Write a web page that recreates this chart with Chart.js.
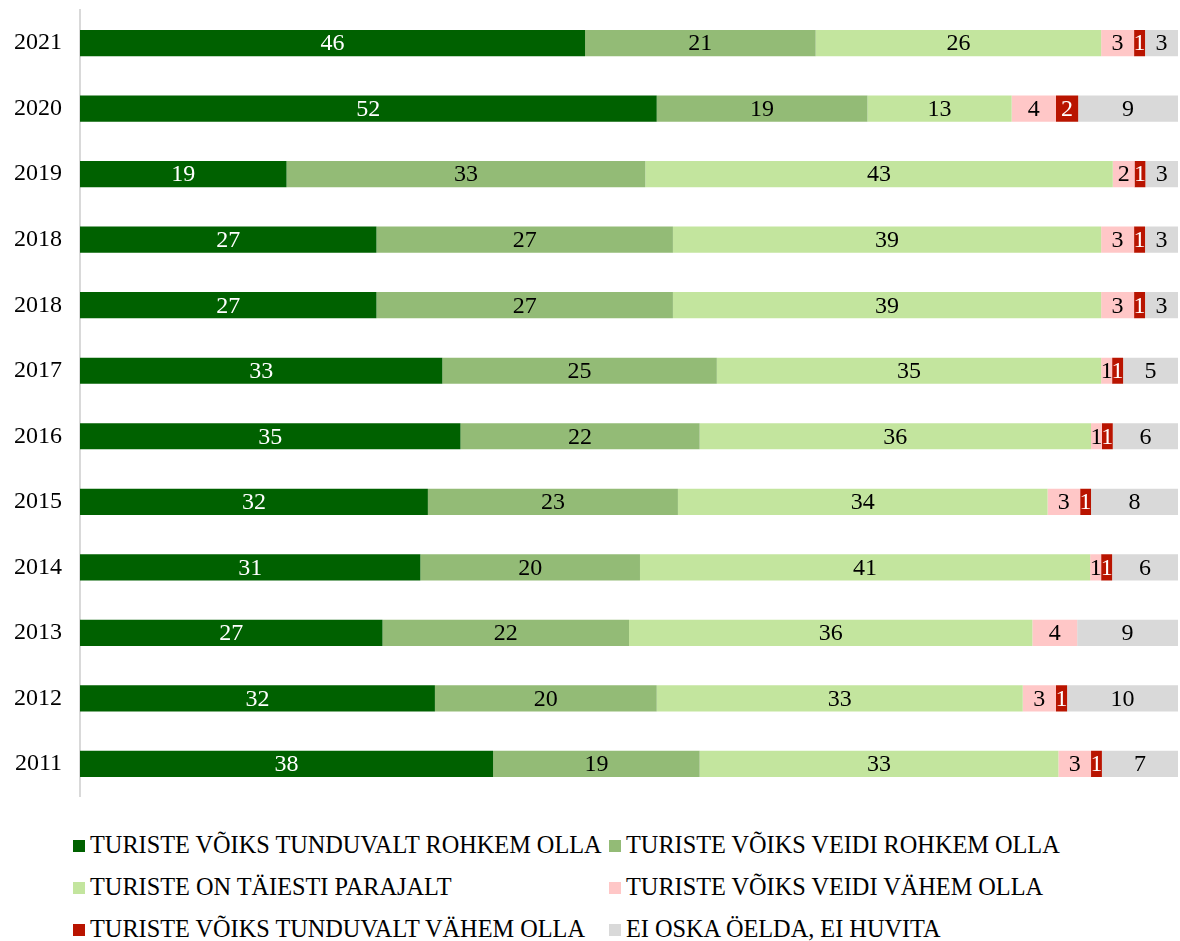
<!DOCTYPE html>
<html>
<head>
<meta charset="utf-8">
<script src="https://cdn.jsdelivr.net/npm/chart.js@4.4.1/dist/chart.umd.min.js"></script>
<style>
  html, body { margin: 0; padding: 0; background: #fff; overflow: hidden; }
  #wrap { position: relative; width: 1180px; height: 941px; overflow: hidden; }
  #chartBox { position: absolute; left: 0; top: -22px; width: 1180px; height: 851px; }
  .leg { position: absolute; font-family: 'Liberation Serif', 'Times New Roman', serif; font-size: 24.3px; color: #000; white-space: nowrap; line-height: 24px; }
  .leg span.sw { position: absolute; width: 12px; height: 12px; top: 7px; }
  .leg span.tx { position: absolute; top: 0; }
</style>
</head>
<body>
<div id="wrap">
  <div id="chartBox"><canvas id="c"></canvas></div>
  <div id="legend"></div>
</div>
<script>
const years = ['2021','2020','2019','2018','2018','2017','2016','2015','2014','2013','2012','2011'];
const seriesNames = [
  'TURISTE VÕIKS TUNDUVALT ROHKEM OLLA',
  'TURISTE VÕIKS VEIDI ROHKEM OLLA',
  'TURISTE ON TÄIESTI PARAJALT',
  'TURISTE VÕIKS VEIDI VÄHEM OLLA',
  'TURISTE VÕIKS TUNDUVALT VÄHEM OLLA',
  'EI OSKA ÖELDA, EI HUVITA'
];
const muchMore   = [46,52,19,27,27,33,35,32,31,27,32,38];
const slightMore = [21,19,33,27,27,25,22,23,20,22,20,19];
const justRight  = [26,13,43,39,39,35,36,34,41,36,33,33];
const slightLess = [3,4,2,3,3,1,1,3,1,4,3,3];
const muchLess   = [1,2,1,1,1,1,1,1,1,0,1,1];
const dontKnow   = [3,9,3,3,3,5,6,8,6,9,10,7];

const colors = ['#006100','#93bb76','#c3e59e','#ffc7c7','#b91400','#d9d9d9'];
const labelColors = ['#ffffff','#000000','#000000','#000000','#ffffff','#000000'];

const raw = [muchMore, slightMore, justRight, slightLess, muchLess, dontKnow];
const totals = years.map((_, i) => raw.reduce((s, arr) => s + arr[i], 0));

const datasets = raw.map((arr, k) => ({
  label: seriesNames[k],
  data: arr.map((v, i) => v / totals[i] * 100),
  rawValues: arr,
  backgroundColor: colors[k],
  borderWidth: 0,
  categoryPercentage: 0.8,
  barPercentage: 0.5
}));

const FONT = "'Liberation Serif', 'Times New Roman', serif";

const labelPlugin = {
  id: 'segLabels',
  afterDatasetsDraw(chart) {
    const ctx = chart.ctx;
    ctx.save();
    ctx.font = '24px ' + FONT;
    ctx.textAlign = 'center';
    ctx.textBaseline = 'middle';
    chart.data.datasets.forEach((ds, k) => {
      const meta = chart.getDatasetMeta(k);
      meta.data.forEach((el, i) => {
        const v = ds.rawValues[i];
        if (!v) return;
        const p = el.getCenterPoint();
        ctx.fillStyle = labelColors[k];
        ctx.fillText(String(v), p.x, p.y + 1);
      });
    });
    ctx.restore();
  }
};

new Chart(document.getElementById('c'), {
  type: 'bar',
  data: { labels: years, datasets },
  options: {
    indexAxis: 'y',
    responsive: true,
    maintainAspectRatio: false,
    animation: false,
    layout: { padding: { top: 0, right: 2, bottom: 0, left: 0 } },
    plugins: { legend: { display: false }, tooltip: { enabled: false } },
    scales: {
      x: { stacked: true, min: 0, max: 100, display: false },
      y: {
        stacked: true,
        grid: { display: false, drawTicks: false },
        border: { display: true, color: '#d9d9d9', width: 2 },
        ticks: { color: '#000', padding: 18, font: { family: FONT, size: 24 } },
        afterFit(scale) { scale.width = 80; }
      }
    }
  },
  plugins: [labelPlugin]
});

// HTML legend (two columns, three rows)
const legend = document.getElementById('legend');
const colX = [73, 609];
const rowY = [833, 875, 917];
seriesNames.forEach((name, k) => {
  const col = k % 2, row = Math.floor(k / 2);
  const d = document.createElement('div');
  d.className = 'leg';
  d.style.left = colX[col] + 'px';
  d.style.top = rowY[row] + 'px';
  const sw = document.createElement('span');
  sw.className = 'sw';
  sw.style.left = '0px';
  sw.style.background = colors[k];
  const tx = document.createElement('span');
  tx.className = 'tx';
  tx.style.left = '17px';
  tx.textContent = name;
  d.appendChild(sw); d.appendChild(tx);
  legend.appendChild(d);
});
</script>
</body>
</html>
